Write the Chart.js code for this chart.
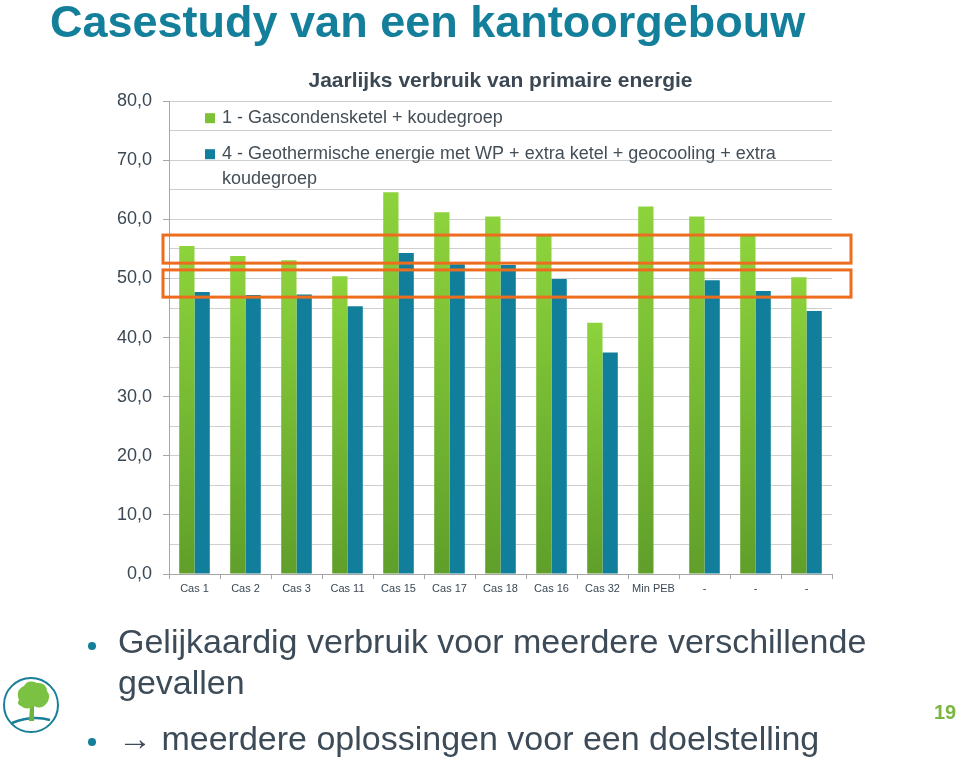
<!DOCTYPE html>
<html lang="nl">
<head>
<meta charset="utf-8">
<title>Casestudy van een kantoorgebouw</title>
<script src="https://cdn.jsdelivr.net/npm/chart.js@4.4.1/dist/chart.umd.min.js"></script>
<style>
  html, body { margin: 0; padding: 0; background: #fff; }
  body { width: 960px; height: 758px; position: relative; overflow: hidden; font-family: "Liberation Sans", Arial, sans-serif; }
  #chart { position: absolute; left: 0; top: 0; }
  .slide-title { position: absolute; left: 50px; top: -1px; font-size: 45px; line-height: 45px; font-weight: bold; color: #137f9b; white-space: nowrap; }
  .bullet { position: absolute; left: 118px; width: 800px; font-size: 34px; line-height: 41px; color: #3d4b58; }
  .bullet .dot { position: absolute; left: -30px; top: 21px; width: 8px; height: 8px; border-radius: 50%; background: #137f9b; }
  .page-nr { position: absolute; left: 934px; top: 701px; font-size: 20px; font-weight: bold; color: #7ab640; }
  .logo { position: absolute; left: 2px; top: 676px; }
</style>
</head>
<body>
<canvas id="chart" width="960" height="758"></canvas>

<div class="slide-title">Casestudy van een kantoorgebouw</div>

<div class="bullet" style="top:621px"><span class="dot"></span>Gelijkaardig verbruik voor meerdere verschillende gevallen</div>
<div class="bullet" style="top:718px"><span class="dot" style="top:20px"></span>&#8594; meerdere oplossingen voor een doelstelling</div>

<svg class="logo" width="60" height="60" viewBox="0 0 60 60">
  <circle cx="29" cy="29" r="27" fill="#fff" stroke="#1a7f98" stroke-width="2"/>
  <path d="M10 47 Q30 39 48 44" stroke="#1a7f98" stroke-width="2.5" fill="none"/>
  <path d="M27 45 L28 31 L24 26 L29 28 L33 24 L32 32 L32 45 Z" fill="#6cb33f"/>
  <path d="M17 24 Q13 14 22 10 Q26 3 35 7 Q44 6 45 15 Q50 21 44 28 Q39 34 32 30 Q25 35 19 30 Q14 28 17 24 Z" fill="#7cc242"/>
</svg>

<div class="page-nr">19</div>

<script>
/** ---------------- Data ---------------- **/
const categories = ['Cas 1', 'Cas 2', 'Cas 3', 'Cas 11', 'Cas 15', 'Cas 17', 'Cas 18', 'Cas 16', 'Cas 32', 'Min PEB', '-', '-', '-'];
const gasketel = [55.5, 53.8, 53.1, 50.4, 64.6, 61.2, 60.5, 57.2, 42.5, 62.2, 60.5, 57.2, 50.2];
const geothermie = [47.7, 47.2, 47.3, 45.3, 54.3, 52.4, 52.3, 49.9, 37.5, null, 49.7, 47.9, 44.5];
const seriesNames = ['1 - Gascondensketel + koudegroep', '4 - Geothermische energie met WP + extra ketel + geocooling + extra koudegroep'];
const yLabels = ['0,0', '10,0', '20,0', '30,0', '40,0', '50,0', '60,0', '70,0', '80,0'];
const highlightBands = [[52.6, 57.35], [46.85, 51.45]];

document.addEventListener("DOMContentLoaded", function () {
  Chart.defaults.font.family = '"Liberation Sans", Arial, sans-serif';

  // per-bar gradient for the green series
  function greenFill(context) {
    const chart = context.chart;
    if (!chart.chartArea || !context.parsed) return '#7cc234';
    const y = chart.scales.y;
    const top = y.getPixelForValue(context.parsed.y);
    const base = y.getPixelForValue(0);
    const g = chart.ctx.createLinearGradient(0, top, 0, base);
    g.addColorStop(0, '#8dd33c');
    g.addColorStop(1, '#5f9f2a');
    return g;
  }

  /** ---------------- Orange boxes ---------------- **/
  const bands = {
    id: 'bands',
    afterDatasetsDraw(chart) {
      const { ctx, chartArea } = chart;
      const y = chart.scales.y;
      ctx.save();
      ctx.strokeStyle = '#ec6d1e';
      ctx.lineWidth = 3;
      highlightBands.forEach(([lo, hi]) => {
        const top = y.getPixelForValue(hi);
        const bottom = y.getPixelForValue(lo);
        ctx.strokeRect(chartArea.left - 6, top, chartArea.right - chartArea.left + 25, bottom - top);
      });
      ctx.restore();
    }
  };

  /** ---------------- Legend inside the plot ---------------- **/
  const insideLegend = {
    id: 'insideLegend',
    afterDraw(chart) {
      const { ctx, chartArea } = chart;
      ctx.save();
      ctx.font = '18px "Liberation Sans", Arial, sans-serif';
      ctx.textBaseline = 'middle';
      const boxX = chartArea.left + 36;
      const textX = chartArea.left + 53;
      const maxW = chartArea.right - textX;
      let y = chartArea.top + 17;
      chart.data.datasets.forEach((ds) => {
        ctx.fillStyle = ds.legendColor;
        ctx.fillRect(boxX, y - 5, 10, 10);
        ctx.fillStyle = '#444e57';
        // simple word wrap
        const lines = [];
        let line = '';
        ds.label.split(' ').forEach((w) => {
          const test = line ? line + ' ' + w : w;
          if (ctx.measureText(test).width > maxW && line) {
            lines.push(line);
            line = w;
          } else {
            line = test;
          }
        });
        lines.push(line);
        lines.forEach((l) => {
          ctx.fillText(l, textX, y);
          y += 25;
        });
        y += 11;
      });
      ctx.restore();
    }
  };

  new Chart(document.getElementById('chart'), {
    type: 'bar',
    data: {
      labels: categories,
      datasets: [
        {
          label: seriesNames[0],
          data: gasketel,
          backgroundColor: greenFill,
          legendColor: '#7cc234',
          categoryPercentage: 0.6,
          barPercentage: 1
        },
        {
          label: seriesNames[1],
          data: geothermie,
          backgroundColor: '#117f9c',
          legendColor: '#117f9c',
          categoryPercentage: 0.6,
          barPercentage: 1
        }
      ]
    },
    options: {
      responsive: false,
      animation: false,
      layout: { padding: { left: 100, right: 128, top: 60, bottom: 154 } },
      plugins: {
        legend: { display: false },
        tooltip: { enabled: false },
        title: {
          display: true,
          text: 'Jaarlijks verbruik van primaire energie',
          fullSize: false,
          color: '#3b4853',
          font: { size: 21, weight: 'bold' },
          padding: { top: 9, bottom: 7 }
        }
      },
      scales: {
        x: {
          grid: { drawOnChartArea: false, drawTicks: true, tickLength: 5, color: '#a6a6a6', offset: true },
          border: { color: '#a6a6a6' },
          ticks: { color: '#3b4853', font: { size: 11 }, padding: 3, maxRotation: 0, autoSkip: false },
          afterFit(s) { s.height = 30; }
        },
        y: {
          min: 0,
          max: 80,
          ticks: {
            stepSize: 5,
            autoSkip: false,
            padding: 11,
            color: '#3b4853',
            font: { size: 18 },
            callback: (v) => (v % 10 === 0 ? yLabels[v / 10] : '')
          },
          grid: {
            color: '#cfcfcf',
            tickLength: 6,
            tickColor: (c) => (c.tick && c.tick.value % 10 === 0 ? '#a6a6a6' : 'rgba(0,0,0,0)')
          },
          border: { color: '#a6a6a6' },
          afterFit(s) { s.width = 69; }
        }
      }
    },
    plugins: [bands, insideLegend]
  });
});
</script>
</body>
</html>
